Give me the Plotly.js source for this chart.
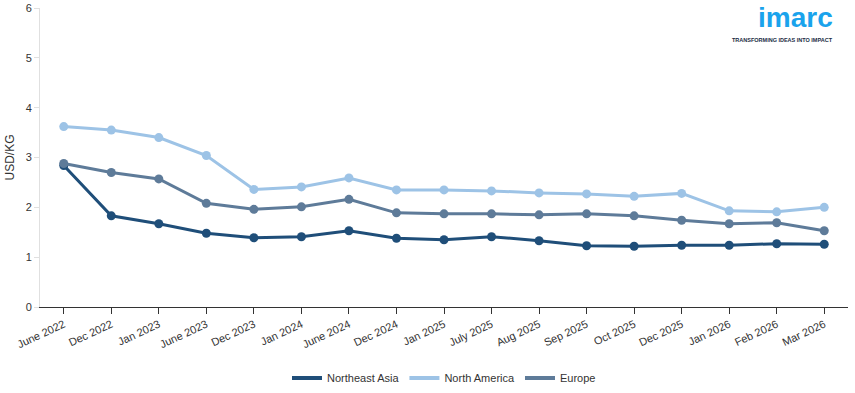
<!DOCTYPE html>
<html>
<head>
<meta charset="utf-8">
<script src="https://cdn.plot.ly/plotly-3.0.1.min.js"></script>
<style>html,body{margin:0;padding:0;background:#fff;}#chart{width:855px;height:393px;}</style>
</head>
<body>
<div id="chart"></div>
<script>
const categories = ["June 2022","Dec 2022","Jan 2023","June 2023","Dec 2023","Jan 2024","June 2024","Dec 2024","Jan 2025","July 2025","Aug 2025","Sep 2025","Oct 2025","Dec 2025","Jan 2026","Feb 2026","Mar 2026"];
const northeastAsia = [2.84,1.83,1.67,1.48,1.39,1.41,1.53,1.38,1.35,1.41,1.33,1.23,1.22,1.24,1.24,1.27,1.26];
const northAmerica = [3.62,3.55,3.40,3.04,2.36,2.41,2.59,2.35,2.35,2.33,2.29,2.27,2.22,2.28,1.93,1.91,2.00];
const europe = [2.88,2.70,2.57,2.08,1.96,2.01,2.16,1.89,1.87,1.87,1.85,1.87,1.83,1.74,1.67,1.69,1.53];
const seriesNames = ["Northeast Asia","North America","Europe"];
const seriesColors = ["#1f4e79","#9dc3e6","#5e7b99"];
const seriesData = [northeastAsia, northAmerica, europe];

const idx = categories.map((c,i)=>i);
const traces = seriesData.map((vals,k)=>({
  type:"scatter", mode:"lines+markers", name:seriesNames[k],
  x: idx, y: vals, showlegend:false,
  line:{color:seriesColors[k], width:3},
  marker:{color:seriesColors[k], size:9}
}));
const legendTraces = seriesNames.map((n,k)=>({
  type:"scatter", mode:"lines", name:n, x:[null], y:[null],
  line:{color:seriesColors[k], width:4}, showlegend:true
}));

const layout = {
  width:855, height:393,
  margin:{l:40, r:7, t:8, b:86},
  paper_bgcolor:"#fff", plot_bgcolor:"#fff",
  font:{family:"Liberation Sans, Arial, sans-serif", size:11, color:"#333"},
  showlegend:true,
  legend:{orientation:"h", x:0.5, xanchor:"center", yref:"container", y:0.038, yanchor:"middle", font:{size:11, color:"#333"}, traceorder:"normal"},
  xaxis:{
    tickmode:"array", tickvals:idx, ticktext:categories, tickangle:-25,
    range:[-0.5,16.5], showgrid:false, zeroline:false, automargin:false,
    showline:true, linecolor:"#333", linewidth:1,
    ticks:"outside", ticklen:6, tickcolor:"#333",
    tickfont:{size:11, color:"#333"}
  },
  yaxis:{
    range:[0,6], dtick:1, showgrid:false, zeroline:false, automargin:false,
    showline:true, linecolor:"#e0e0e0", linewidth:1,
    ticks:"outside", ticklen:5, tickcolor:"#e0e0e0",
    tickfont:{size:11, color:"#333"},
    title:{text:"USD/KG", font:{size:12, color:"#333"}, standoff:8}
  },
  annotations:[
    {xref:"paper", yref:"paper", x:0.983, y:1.025, xanchor:"right", yanchor:"top", showarrow:false, borderpad:0,
     text:"<b>imarc</b>", font:{family:"Liberation Sans, Arial, sans-serif", size:28, color:"#1aa3ec"}},
    {xref:"paper", yref:"paper", x:0.983, y:0.893, xanchor:"right", yanchor:"middle", showarrow:false, borderpad:0,
     text:"<b>TRANSFORMING IDEAS INTO IMPACT</b>", font:{family:"Liberation Sans, Arial, sans-serif", size:5.5, color:"#1a2b44"}}
  ]
};
Plotly.newPlot("chart", traces.concat(legendTraces), layout, {displayModeBar:false, staticPlot:true});
</script>
</body>
</html>
